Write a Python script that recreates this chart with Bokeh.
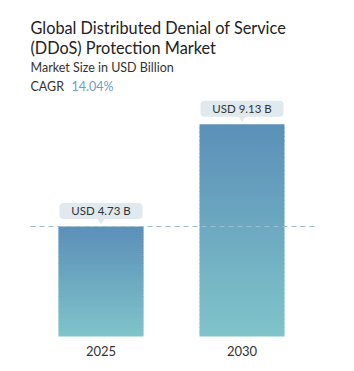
import numpy as np
from bokeh.plotting import figure
from bokeh.models import Range1d, Label, ColumnDataSource
from bokeh.embed import file_html
from bokeh.resources import INLINE
from bokeh.core.properties import value

years = ["2025", "2030"]
sizes = [4.73, 9.13]
bar_labels = ["USD 4.73 B", "USD 9.13 B"]
title_lines = ["Global Distributed Denial of Service", "(DDoS) Protection Market"]
subtitle = "Market Size in USD Billion"
cagr_label = "CAGR"
cagr_value = "14.04%"

W, H = 354, 371
PX = 23.26          # pixels per USD billion
BASE_PX = 336       # baseline pixel row (from top)
ymin = -(H - BASE_PX) / PX
ymax = BASE_PX / PX

p = figure(width=W, height=H, output_backend="svg", toolbar_location=None,
           x_range=Range1d(0, W), y_range=Range1d(ymin, ymax),
           min_border=0, outline_line_color=None)
p.axis.visible = False
p.grid.visible = False
p.background_fill_color = "white"
p.border_fill_color = "white"

centers = [100.5, 241.5]
bw = 85
top_c = np.array([0x5b, 0x8f, 0xb8])
bot_c = np.array([0x80, 0xc4, 0xca])
N = 50
ql, qr, qb, qt, qc = [], [], [], [], []
for c, v in zip(centers, sizes):
    for i in range(N):
        b = v * i / N
        t = min(v * (i + 1) / N + 0.04, v)
        f = (i + 0.5) / N
        col = bot_c + (top_c - bot_c) * f
        ql.append(c - bw / 2); qr.append(c + bw / 2); qb.append(b); qt.append(t)
        qc.append("#%02x%02x%02x" % tuple(int(round(x)) for x in col))
p.quad(left=ql, right=qr, bottom=qb, top=qt, fill_color=qc, line_color=None)

# dashed reference line at first value
p.line(x=[30, 314], y=[sizes[0], sizes[0]], line_color="#9dbccd", line_width=1.2,
       line_dash="5 4")

# value callouts
src = ColumnDataSource(dict(x=centers, y=sizes, t=bar_labels,
                            by=[s + 15.5 / PX for s in sizes],
                            py=[s + 6.5 / PX for s in sizes]))
p.rect(x="x", y="by", width=83, height=16, width_units="data", height_units="screen",
       source=src, fill_color="#dfe9ee", line_color=None, border_radius=4)
p.scatter(x="x", y="py", source=src, marker="inverted_triangle", size=8,
          fill_color="#dfe9ee", line_color=None)
p.text(x="x", y="by", text="t", source=src,
       text_align="center", text_baseline="middle", text_font=value("Lato"),
       text_font_size="11.5px", text_color="#333333")

# year labels
p.text(x=centers, y=[-14 / PX] * 2, text=years, text_align="center",
       text_baseline="middle", text_font=value("Lato"), text_font_size="13px",
       text_color="#333333")

def lab(txt, x, ytop, size, color, weight="normal"):
    p.add_layout(Label(x=x, y=H - ytop, x_units="screen", y_units="screen", text=txt,
                       text_font="Lato", text_font_size=size, text_color=color,
                       text_font_style=weight, text_baseline="alphabetic"))

lab(title_lines[0], 30, 27, "16.3px", "#222222")
lab(title_lines[1], 30, 47, "16.3px", "#222222")
lab(subtitle, 30, 67, "12.5px", "#333333")
lab(cagr_label, 30, 86, "12.5px", "#333333")
lab(cagr_value, 71, 86, "12.5px", "#6d9ec6")

open("out.html", "w").write(file_html(p, INLINE))
